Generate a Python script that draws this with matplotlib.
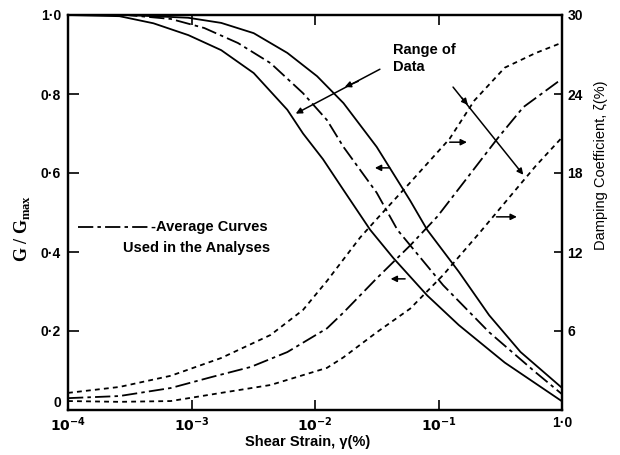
import matplotlib
matplotlib.use("Agg")
import matplotlib.pyplot as plt

plt.rcParams["font.family"] = ["Liberation Sans", "DejaVu Sans"]
plt.rcParams["lines.scale_dashes"] = False
plt.rcParams["mathtext.default"] = "bf"

# modulus reduction curves, G/Gmax against shear strain (%)
strain_g_upper = [1e-4, 3e-4, 9.4e-4, 1.74e-3, 3.19e-3, 5.97e-3, 1.04e-2, 1.7e-2, 3.16e-2,
                  5.9e-2, 8.1e-2, 0.146, 0.257, 0.461, 1.0]
g_upper = [1.0, 1.0, 0.993, 0.98, 0.954, 0.904, 0.845, 0.777, 0.666,
           0.53, 0.456, 0.35, 0.24, 0.147, 0.056]

strain_g_avg = [1e-4, 3e-4, 6.8e-4, 1.27e-3, 2.38e-3, 4.37e-3, 8.0e-3, 1.25e-2, 1.7e-2,
                3.16e-2, 4.65e-2, 0.109, 0.257, 0.608, 1.0]
g_avg = [1.0, 1.0, 0.99, 0.967, 0.929, 0.878, 0.802, 0.734, 0.666,
         0.55, 0.456, 0.316, 0.197, 0.096, 0.04]

strain_g_lower = [1e-4, 2.61e-4, 4.92e-4, 9.44e-4, 1.74e-3, 3.19e-3, 5.97e-3, 8.0e-3, 1.16e-2,
                  1.7e-2, 2.8e-2, 4.3e-2, 8.1e-2, 0.146, 0.344, 1.0]
g_lower = [1.0, 0.997, 0.979, 0.949, 0.911, 0.853, 0.76, 0.70, 0.635,
           0.557, 0.456, 0.385, 0.29, 0.215, 0.12, 0.022]

# damping curves, percent
strain_d_upper = [1e-4, 2.61e-4, 6.8e-4, 1.74e-3, 4.37e-3, 8.0e-3, 1.25e-2, 2.32e-2, 3.16e-2,
                  5.8e-2, 0.123, 0.195, 0.344, 0.608, 1.0]
d_upper = [1.3, 1.75, 2.6, 3.95, 5.7, 7.6, 9.8, 13.1, 14.5,
           17.2, 20.6, 23.5, 26.0, 27.1, 27.9]

strain_d_avg = [1e-4, 2.61e-4, 6.8e-4, 1.45e-3, 3.02e-3, 5.97e-3, 1.25e-2, 1.7e-2, 3.16e-2,
                5.9e-2, 9.8e-2, 0.173, 0.305, 0.486, 0.918, 1.0]
d_avg = [0.9, 1.06, 1.67, 2.5, 3.27, 4.4, 6.2, 7.4, 10.0,
         12.5, 14.7, 17.7, 20.7, 23.0, 24.9, 25.1]

strain_d_lower = [1e-4, 2.61e-4, 6.8e-4, 1.74e-3, 4.37e-3, 1.25e-2, 1.7e-2, 3.16e-2, 5.9e-2,
                  0.109, 0.217, 0.363, 0.608, 1.0]
d_lower = [0.68, 0.62, 0.68, 1.3, 1.9, 3.2, 4.0, 5.9, 7.7,
           10.25, 13.5, 16.0, 18.5, 20.7]

x_ticks = [1e-4, 1e-3, 1e-2, 1e-1, 1.0]
x_tick_labels = [r"$10^{-4}$", r"$10^{-3}$", r"$10^{-2}$", r"$10^{-1}$", "1·0"]
g_ticks = [0, 0.2, 0.4, 0.6, 0.8, 1.0]
g_tick_labels = ["0", "0·2", "0·4", "0·6", "0·8", "1·0"]
d_ticks = [6, 12, 18, 24, 30]
d_tick_labels = ["6", "12", "18", "24", "30"]

avg_dash = (0, (11, 3, 2.5, 3))
dot_dash = (0, (3.5, 3))

fig = plt.figure(figsize=(6.2, 4.55), dpi=100)
ax = fig.add_axes([68 / 620, 45 / 455, 494 / 620, 395 / 455])
ax2 = ax.twinx()

ax.plot(strain_g_upper, g_upper, color="k", lw=1.3)
ax.plot(strain_g_avg, g_avg, color="k", lw=1.3, linestyle=avg_dash)
ax.plot(strain_g_lower, g_lower, color="k", lw=1.3)

ax2.plot(strain_d_upper, d_upper, color="k", lw=1.3, linestyle=dot_dash)
ax2.plot(strain_d_avg, d_avg, color="k", lw=1.3, linestyle=avg_dash)
ax2.plot(strain_d_lower, d_lower, color="k", lw=1.3, linestyle=dot_dash)

ax.set_xscale("log")
ax.set_xlim(1e-4, 1.0)
ax.set_ylim(0, 1.0)
ax2.set_ylim(0, 30)

ax.set_xticks(x_ticks)
ax.set_xticklabels(x_tick_labels)
ax.minorticks_off()
ax.set_yticks(g_ticks)
ax.set_yticklabels(g_tick_labels)
ax2.set_yticks(d_ticks)
ax2.set_yticklabels(d_tick_labels)

ax.tick_params(axis="x", which="both", direction="in", length=7, width=1.2,
               top=True, pad=4, labelsize=10)
ax.tick_params(axis="y", direction="in", length=8, width=1.2, pad=5, labelsize=10)
ax2.tick_params(axis="y", direction="in", length=6, width=1.2, pad=4, labelsize=10)
for label in ax.get_xticklabels() + ax.get_yticklabels() + ax2.get_yticklabels():
    label.set_fontweight("bold")
# the zero label sits a little higher, clear of 10^-4
ax.get_yticklabels()[0].set_verticalalignment("bottom")
for axis in (ax, ax2):
    for spine in axis.spines.values():
        spine.set_linewidth(1.6)

# axis titles
fig.text(22 / 620, 1 - 228 / 455, r"G / G$_{\mathregular{max}}$", rotation=90,
         ha="center", va="center", fontsize=13, fontweight="bold",
         family=["Liberation Serif", "DejaVu Serif"])
fig.text(601 / 620, 1 - 165 / 455, "Damping Coefficient, ζ(%)", rotation=90,
         ha="center", va="center", fontsize=10.5)
fig.text(308 / 620, 1 - 442 / 455, "Shear Strain, γ(%)", ha="center", va="center",
         fontsize=10.5, fontweight="bold")

# labels and arrows
ax.text(0.043, 0.89, "Range of\nData", ha="left", va="center", fontsize=10.5,
        fontweight="bold", linespacing=1.2)
arrow = dict(arrowstyle="-|>", color="k", lw=1.1, mutation_scale=9)
ax.annotate("", xy=(6.67e-3, 0.747), xytext=(0.0351, 0.866), arrowprops=arrow)
ax.annotate("", xy=(0.0166, 0.815), xytext=(0.0235, 0.835), arrowprops=arrow)
ax.annotate("", xy=(0.502, 0.59), xytext=(0.127, 0.823), arrowprops=arrow)
ax.annotate("", xy=(0.179, 0.767), xytext=(0.15, 0.795), arrowprops=arrow)

ax.annotate("", xy=(0.029, 0.613), xytext=(0.0423, 0.613), arrowprops=arrow)
ax.annotate("", xy=(0.0389, 0.332), xytext=(0.0565, 0.332), arrowprops=arrow)
ax.annotate("", xy=(0.179, 0.678), xytext=(0.117, 0.678), arrowprops=arrow)
ax.annotate("", xy=(0.454, 0.489), xytext=(0.28, 0.489), arrowprops=arrow)

ax.plot([1.21e-4, 4.64e-4], [0.463, 0.463], color="k", lw=1.3, linestyle=avg_dash)
ax.text(4.73e-4, 0.463, "-Average Curves", ha="left", va="center", fontsize=10.5,
        fontweight="bold")
ax.text(2.77e-4, 0.41, "Used in the Analyses", ha="left", va="center", fontsize=10.5,
        fontweight="bold")

fig.savefig("out.png", dpi=100)
